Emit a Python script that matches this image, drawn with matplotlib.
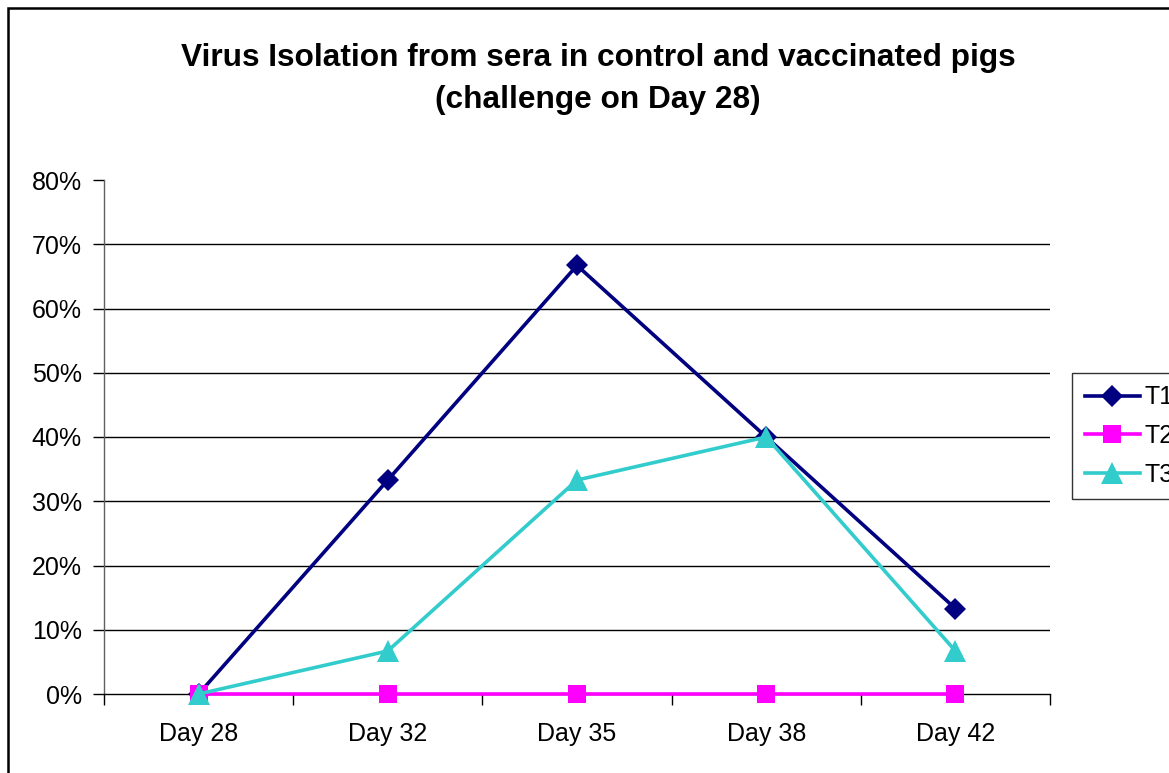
import numpy as np
import matplotlib.pyplot as plt
from matplotlib.patches import Rectangle

plt.rcParams['font.family'] = ['Liberation Sans', 'DejaVu Sans']

days = ["Day 28", "Day 32", "Day 35", "Day 38", "Day 42"]
t1 = [0.0, 0.333, 0.667, 0.40, 0.133]
t2 = [0.0, 0.0, 0.0, 0.0, 0.0]
t3 = [0.0, 0.067, 0.333, 0.40, 0.067]
y_ticks = [0.0, 0.1, 0.2, 0.3, 0.4, 0.5, 0.6, 0.7, 0.8]

W, H = 1169, 773
fig = plt.figure(figsize=(W / 100, H / 100), dpi=100)
ax = fig.add_axes([104 / W, 1 - 694 / H, (1050 - 104) / W, (694 - 180) / H])

x = np.arange(len(days))

# gridlines (none at the top value)
for v in y_ticks[1:-1]:
    ax.axhline(v, color="black", linewidth=1.0, zorder=0)

ax.plot(x, t1, color="#000080", linewidth=2.6, marker="D", markersize=11,
        markeredgewidth=0, label="T1", zorder=3, clip_on=False)
ax.plot(x, t2, color="#FF00FF", linewidth=2.6, marker="s", markersize=13.5,
        markeredgewidth=0, label="T2", zorder=3, clip_on=False)
ax.plot(x, t3, color="#33CCCC", linewidth=2.6, marker="^", markersize=15.5,
        markeredgewidth=0, label="T3", zorder=4, clip_on=False)

ax.set_xlim(-0.5, len(days) - 0.5)
ax.set_ylim(0, 0.8)

ax.set_yticks(y_ticks)
ax.set_yticklabels([f"{int(round(v * 100))}%" for v in y_ticks], fontsize=18)
ax.set_xticks(np.arange(-0.5, len(days)), labels=[])
ax.set_xticks(x, labels=days, minor=True, fontsize=18)
ax.tick_params(axis="x", which="major", direction="out", length=8, width=1, color="black")
ax.tick_params(axis="x", which="minor", length=0, pad=20)
ax.tick_params(axis="y", direction="out", length=8, width=1, color="black", pad=8)

for s in ["top", "right"]:
    ax.spines[s].set_visible(False)
ax.spines["left"].set_color("#606060")
ax.spines["bottom"].set_color("black")
ax.spines["left"].set_linewidth(1.0)
ax.spines["bottom"].set_linewidth(1.0)

fig.text(598 / W, 1 - 79 / H,
         "Virus Isolation from sera in control and vaccinated pigs\n(challenge on Day 28)",
         ha="center", va="center", fontsize=22.8, fontweight="bold", linespacing=1.5)

leg = fig.legend(loc="upper left", bbox_to_anchor=(1072 / W, 1 - 373 / H),
                 borderaxespad=0, fontsize=18, frameon=True, fancybox=False,
                 edgecolor="black", handlelength=2.2, handletextpad=0.2,
                 labelspacing=0.58, borderpad=0.5)
leg.get_frame().set_linewidth(1.0)

fig.patches.append(Rectangle((8 / W, -0.1), 1.2, 1.1 - 8 / H, transform=fig.transFigure,
                             fill=False, edgecolor="black", linewidth=1.8))

fig.savefig("out.png", dpi=100)
